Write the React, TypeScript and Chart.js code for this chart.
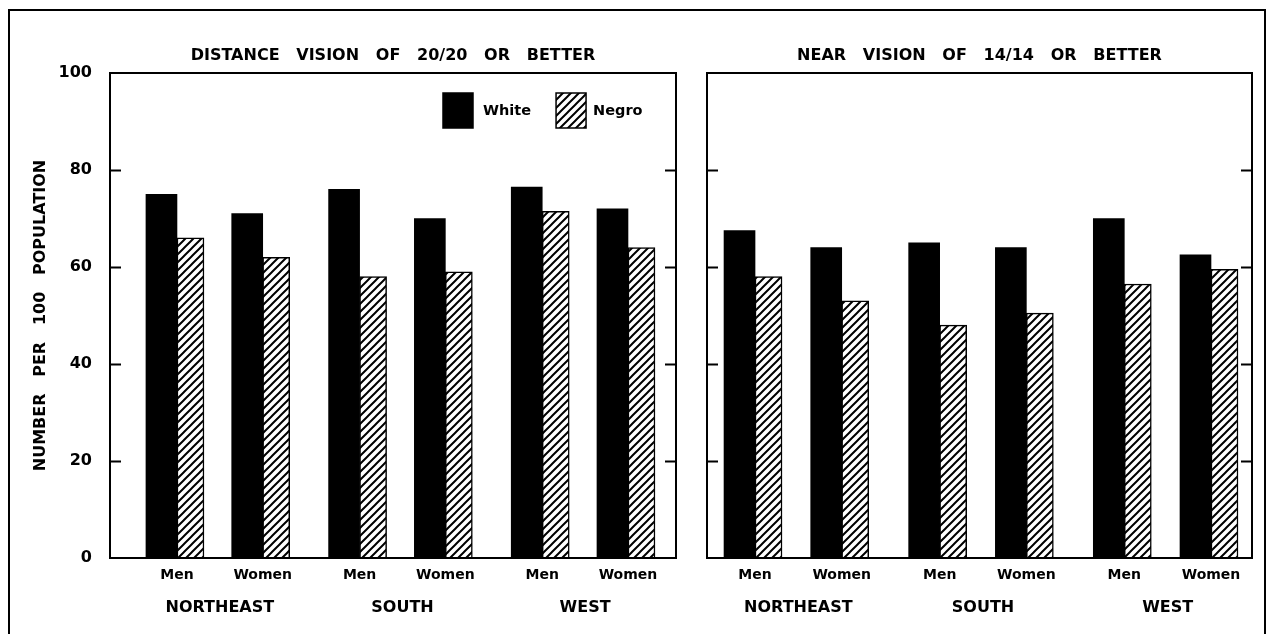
import React, { useEffect, useRef } from "react";
import { Chart, registerables } from "chart.js";

Chart.register(...registerables);

// ---------- data ----------
const categories = ["Men", "Women", "Men", "Women", "Men", "Women"];
const regions = ["NORTHEAST", "SOUTH", "WEST"];
const seriesNames = ["White", "Negro"];
const distanceWhite = [75, 71, 76, 70, 76.5, 72];
const distanceNegro = [66, 62, 58, 59, 71.5, 64];
const nearWhite = [67.5, 64, 65, 64, 70, 62.5];
const nearNegro = [58, 53, 48, 50.5, 56.5, 59.5];
const yTicks = [0, 20, 40, 60, 80, 100];
const panelTitles = ["DISTANCE VISION OF 20/20 OR BETTER", "NEAR VISION OF 14/14 OR BETTER"];
const yAxisTitle = "NUMBER PER 100 POPULATION";

// ---------- layout ----------
const SLOT = [0, 1, 2.13, 3.13, 4.26, 5.26];
const REGION_MID = [0, 1, 2].map((r) => (SLOT[2 * r] + SLOT[2 * r + 1]) / 2);
const FONT = "'DejaVu Sans', sans-serif";
const spaced = (s: string) => s.split(" ").join("   ");

function makeHatch(): any {
  const c = document.createElement("canvas");
  const s = 8;
  c.width = s;
  c.height = s;
  const g = c.getContext("2d")!;
  g.fillStyle = "#fff";
  g.fillRect(0, 0, s, s);
  g.strokeStyle = "#000";
  g.lineWidth = 2;
  g.beginPath();
  g.moveTo(-2, s + 2);
  g.lineTo(s + 2, -2);
  g.moveTo(-2, 2);
  g.lineTo(2, -2);
  g.moveTo(s - 2, s + 2);
  g.lineTo(s + 2, s - 2);
  g.stroke();
  return g.createPattern(c, "repeat");
}

const framePlugin = {
  id: "frame",
  afterDatasetsDraw(chart: any, _args: any, opts: any) {
    const { ctx, chartArea: a } = chart;
    const y = chart.scales.y;
    ctx.save();
    ctx.strokeStyle = "#000";
    ctx.lineWidth = 2;
    ctx.strokeRect(a.left, a.top, a.right - a.left, a.bottom - a.top);
    ctx.beginPath();
    for (const v of yTicks) {
      if (v <= 0 || v >= 100) continue;
      const py = Math.round(y.getPixelForValue(v)) + 0.5;
      ctx.moveTo(a.left, py);
      ctx.lineTo(a.left + 11, py);
      ctx.moveTo(a.right, py);
      ctx.lineTo(a.right - 11, py);
    }
    ctx.stroke();
    if (opts && opts.legend) {
      const ds = chart.data.datasets;
      let x = a.right - 233;
      const top = a.top + 20;
      ctx.font = `bold 14.5px ${FONT}`;
      ctx.textBaseline = "middle";
      ctx.textAlign = "left";
      ds.forEach((d: any, i: number) => {
        ctx.fillStyle = d.backgroundColor;
        ctx.fillRect(x, top, 30, 35);
        ctx.lineWidth = 1.5;
        ctx.strokeRect(x, top, 30, 35);
        x += 30 + (i === 0 ? 10 : 7);
        ctx.fillStyle = "#000";
        ctx.fillText(d.label, x, top + 18);
        x += ctx.measureText(d.label).width + 25;
      });
    }
    ctx.restore();
  },
};

function buildConfig(title: string, white: number[], negro: number[], hatch: any, isLeft: boolean): any {
  const min = isLeft ? -0.781 : -0.554;
  const max = isLeft ? 5.82 : 5.733;
  const bold = (size: number) => ({ family: FONT, size, weight: "bold" as const });
  return {
    type: "bar",
    data: {
      datasets: [
        {
          label: seriesNames[0],
          data: white.map((v, i) => ({ x: SLOT[i], y: v })),
          backgroundColor: "#000",
          borderColor: "#000",
          borderWidth: 0,
          barThickness: 31,
        },
        {
          label: seriesNames[1],
          data: negro.map((v, i) => ({ x: SLOT[i], y: v })),
          backgroundColor: hatch,
          borderColor: "#000",
          borderWidth: 1.5,
          barThickness: 27,
        },
      ],
    },
    plugins: [framePlugin],
    options: {
      responsive: true,
      maintainAspectRatio: false,
      animation: false,
      layout: { padding: { left: isLeft ? 0 : 17, right: isLeft ? 14 : 19, top: 0, bottom: 0 } },
      plugins: {
        legend: { display: false },
        tooltip: { enabled: false },
        title: {
          display: true,
          text: spaced(title),
          fullSize: false,
          color: "#000",
          font: bold(16),
          padding: { top: 46, bottom: 7.8 },
        },
        frame: { legend: isLeft },
      },
      scales: {
        x: {
          type: "linear",
          min,
          max,
          offset: false,
          bounds: "data",
          grid: { display: false, offset: false },
          border: { display: false },
          afterBuildTicks: (s: any) => {
            s.ticks = SLOT.map((v) => ({ value: v }));
          },
          afterFit: (s: any) => {
            s.height = 30;
          },
          ticks: {
            autoSkip: false,
            maxRotation: 0,
            color: "#000",
            padding: 1,
            font: bold(14),
            callback: (_v: any, i: number) => categories[i],
          },
        },
        x2: {
          type: "linear",
          position: "bottom",
          weight: 1,
          min,
          max,
          offset: false,
          bounds: "data",
          grid: { display: false },
          border: { display: false },
          afterBuildTicks: (s: any) => {
            s.ticks = REGION_MID.map((v) => ({ value: v }));
          },
          afterFit: (s: any) => {
            s.height = 46;
          },
          ticks: {
            autoSkip: false,
            maxRotation: 0,
            color: "#000",
            padding: 2.5,
            font: bold(16),
            callback: (_v: any, i: number) => regions[i],
          },
        },
        y: {
          min: 0,
          max: 100,
          display: isLeft,
          afterFit: (s: any) => {
            s.width = isLeft ? 110 : 0;
          },
          grid: { display: false },
          border: { display: false },
          ticks: { stepSize: 20, color: "#000", padding: 10, font: bold(16) },
          title: {
            display: true,
            text: spaced(yAxisTitle),
            color: "#000",
            font: bold(16),
            padding: { top: 31, bottom: 0 },
          },
        },
      },
    },
  };
}

export default function App() {
  const leftRef = useRef<HTMLCanvasElement>(null);
  const rightRef = useRef<HTMLCanvasElement>(null);

  useEffect(() => {
    const hatch = makeHatch();
    const c1 = new Chart(leftRef.current!, buildConfig(panelTitles[0], distanceWhite, distanceNegro, hatch, true));
    const c2 = new Chart(rightRef.current!, buildConfig(panelTitles[1], nearWhite, nearNegro, hatch, false));
    return () => {
      c1.destroy();
      c2.destroy();
    };
  }, []);

  return (
    <div
      style={{
        position: "fixed",
        left: 0,
        top: 0,
        width: 1271,
        height: 634,
        overflow: "hidden",
        background: "#fff",
      }}
    >
      <div
        style={{
          position: "absolute",
          left: 8,
          top: 9,
          width: 1258,
          height: 700,
          borderLeft: "2px solid #000",
          borderTop: "2px solid #000",
          borderRight: "2px solid #000",
          boxSizing: "border-box",
        }}
      />
      <div style={{ position: "absolute", left: 0, top: 0, width: 690, height: 634 }}>
        <canvas ref={leftRef} />
      </div>
      <div style={{ position: "absolute", left: 690, top: 0, width: 581, height: 634 }}>
        <canvas ref={rightRef} />
      </div>
    </div>
  );
}
